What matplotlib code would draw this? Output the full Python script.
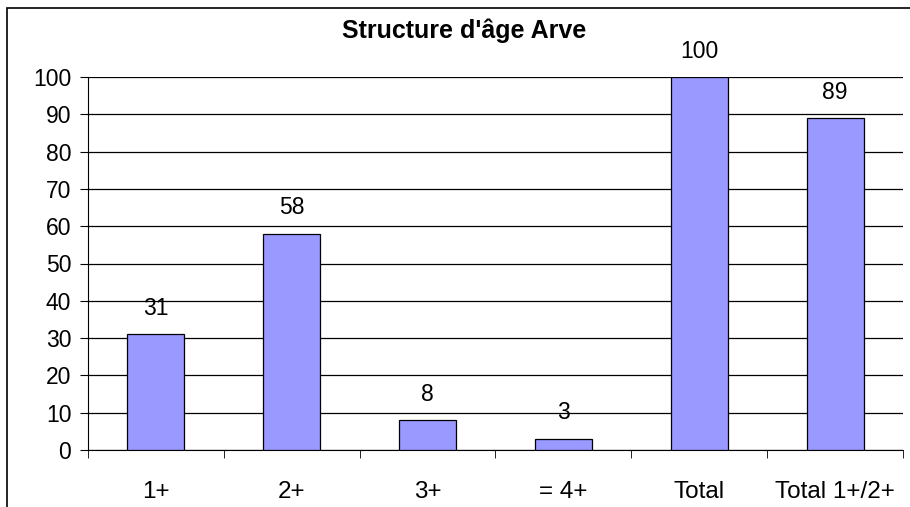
import matplotlib.pyplot as plt
from matplotlib.patches import Rectangle

# Data
categories = ['1+', '2+', '3+', '= 4+', 'Total', 'Total 1+/2+']
values = [31, 58, 8, 3, 100, 89]
yticks = list(range(0, 101, 10))

plt.rcParams['font.family'] = ['Liberation Sans', 'DejaVu Sans']

fig = plt.figure(figsize=(9.1, 5.07), dpi=100)
W, H = 910, 507

# Outer chart border (Excel style), right and bottom edges fall outside the image
fig.patches.append(Rectangle((7 / W, -0.1), 1.0, 1.1 - 8 / H, transform=fig.transFigure,
                             fill=False, edgecolor='black', linewidth=1.2))

ax = fig.add_axes([88 / W, 1 - 450 / H, (903 - 88) / W, (450 - 77) / H])

x = list(range(len(categories)))
ax.bar(x, values, width=0.42, color='#9999FF', edgecolor='black', linewidth=0.9, zorder=3)

for xi, v in zip(x, values):
    ax.annotate(str(v), (xi, v), xytext=(0, 14), textcoords='offset points',
                ha='center', va='baseline', fontsize=16.5)

ax.set_xlim(-0.5, len(categories) - 0.5)
ax.set_ylim(0, 100)
ax.set_yticks(yticks)
ax.set_yticklabels([str(t) for t in yticks], fontsize=16.5)
ax.yaxis.grid(True, color='black', linewidth=0.9, zorder=0)
ax.set_axisbelow(True)

ax.set_xticks(x)
ax.set_xticklabels(categories, fontsize=17.5)
ax.tick_params(axis='x', which='major', length=0, pad=22)
ax.set_xticks([i - 0.5 for i in range(len(categories) + 1)], minor=True)
ax.tick_params(axis='x', which='minor', length=6, direction='out', color='black')
ax.tick_params(axis='y', length=6, direction='out', pad=6)

for side in ['top', 'right']:
    ax.spines[side].set_visible(False)
ax.spines['left'].set_color('black')
ax.spines['bottom'].set_color('black')

fig.text(464 / W, 1 - 38 / H, "Structure d'âge Arve", ha='center', va='baseline',
         fontsize=18, fontweight='bold')

fig.savefig('out.png', dpi=100)
